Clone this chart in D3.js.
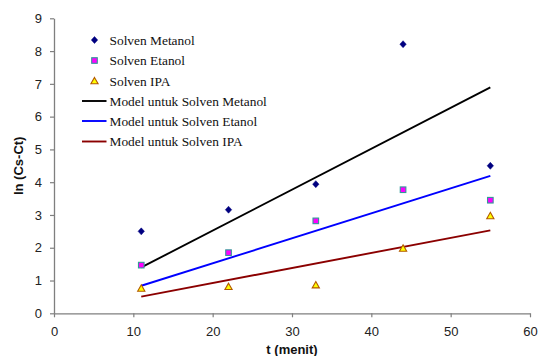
<!DOCTYPE html>
<html>
<head>
<meta charset="utf-8">
<script src="https://cdn.jsdelivr.net/npm/d3@7"></script>
<style>
  html, body { margin: 0; padding: 0; background: #fff; }
  svg { display: block; }
</style>
</head>
<body>
<svg id="chart" width="538" height="356"></svg>
<script>
// Sampling times (menit)
const times = [11, 22, 33, 44, 55];

// Observed ln(Cs-Ct) for each solvent
const metanol = [2.50, 3.16, 3.94, 8.21, 4.50];
const etanol  = [1.47, 1.85, 2.82, 3.77, 3.45];
const ipa     = [0.76, 0.81, 0.86, 1.98, 2.97];

// Linear model lines, evaluated at the first and last time
const modelTimes   = [11, 55];
const modelMetanol = [1.40, 6.89];
const modelEtanol  = [0.84, 4.19];
const modelIpa     = [0.51, 2.53];

// Axis ticks
const xTicks = [0, 10, 20, 30, 40, 50, 60];
const yTicks = [0, 1, 2, 3, 4, 5, 6, 7, 8, 9];

const legendLabels = [
  "Solven Metanol", "Solven Etanol", "Solven IPA",
  "Model untuk Solven Metanol", "Model untuk Solven Etanol", "Model untuk Solven IPA"
];

const svg = d3.select("#chart");
const plotLeft = 54, plotRight = 530, plotTop = 18.3, plotBottom = 313.3;

const x = d3.scaleLinear().domain([0, 60]).range([plotLeft, plotRight]);
const y = d3.scaleLinear().domain([0, 9]).range([plotBottom, plotTop]);

const axisColor = "#7f7f7f";
const tickFont = "'Liberation Sans', Arial, sans-serif";
const serif = "'Liberation Serif', 'Times New Roman', serif";

// X axis
const gx = svg.append("g")
  .attr("transform", `translate(0,${plotBottom})`)
  .call(d3.axisBottom(x).tickValues(xTicks).tickSize(4).tickPadding(9).tickSizeOuter(0));
gx.select(".domain").attr("stroke", axisColor).attr("stroke-width", 1.3);
gx.selectAll(".tick line").attr("stroke", axisColor).attr("stroke-width", 1.2);
gx.selectAll(".tick text").attr("font-family", tickFont).attr("font-size", 13).attr("fill", "#222");

// Y axis
const gy = svg.append("g")
  .attr("transform", `translate(${plotLeft},0)`)
  .call(d3.axisLeft(y).tickValues(yTicks).tickSize(4).tickPadding(8).tickSizeOuter(0));
gy.select(".domain").attr("stroke", axisColor).attr("stroke-width", 1.3);
gy.selectAll(".tick line").attr("stroke", axisColor).attr("stroke-width", 1.2);
gy.selectAll(".tick text").attr("font-family", tickFont).attr("font-size", 13).attr("fill", "#222");

// Axis titles
svg.append("text")
  .attr("x", (plotLeft + plotRight) / 2).attr("y", 354)
  .attr("text-anchor", "middle")
  .attr("font-family", tickFont).attr("font-size", 13).attr("font-weight", "bold")
  .attr("fill", "#111")
  .text("t (menit)");

svg.append("text")
  .attr("transform", `translate(23,${(plotTop + plotBottom) / 2}) rotate(-90)`)
  .attr("text-anchor", "middle")
  .attr("font-family", tickFont).attr("font-size", 13).attr("font-weight", "bold")
  .attr("fill", "#111")
  .text("ln (Cs-Ct)");

// Model lines
const line = d3.line().x(d => x(d[0])).y(d => y(d[1]));
const models = [
  { vals: modelMetanol, color: "#000000" },
  { vals: modelEtanol,  color: "#0000ff" },
  { vals: modelIpa,     color: "#8b0000" }
];
models.forEach(m => {
  svg.append("path")
    .datum(modelTimes.map((t, i) => [t, m.vals[i]]))
    .attr("d", line)
    .attr("fill", "none")
    .attr("stroke", m.color)
    .attr("stroke-width", 1.9);
});

// Markers
function diamond(g, cx, cy) {
  g.append("path")
    .attr("d", `M${cx},${cy - 3.5}L${cx + 3.2},${cy}L${cx},${cy + 3.5}L${cx - 3.2},${cy}Z`)
    .attr("fill", "#000080").attr("stroke", "#000080").attr("stroke-width", 0.5);
}
function square(g, cx, cy) {
  g.append("rect")
    .attr("x", cx - 2.8).attr("y", cy - 2.8).attr("width", 5.6).attr("height", 5.6)
    .attr("fill", "#ff00ff").attr("stroke", "#339999").attr("stroke-width", 1.1);
}
function triangle(g, cx, cy) {
  g.append("path")
    .attr("d", `M${cx},${cy - 3.6}L${cx + 3.6},${cy + 2.8}L${cx - 3.6},${cy + 2.8}Z`)
    .attr("fill", "#ffff00").attr("stroke", "#b35900").attr("stroke-width", 1.1);
}

const pts = svg.append("g");
times.forEach((t, i) => diamond(pts, x(t), y(metanol[i])));
times.forEach((t, i) => square(pts, x(t), y(etanol[i])));
times.forEach((t, i) => triangle(pts, x(t), y(ipa[i])));

// Legend
const lg = svg.append("g");
const rowY = [40, 60.5, 81, 101, 121, 141.5];
const markerFns = [diamond, square, triangle];
legendLabels.forEach((label, i) => {
  const ry = rowY[i];
  if (i < 3) {
    markerFns[i](lg, 94.5, ry);
  } else {
    lg.append("line")
      .attr("x1", 82).attr("x2", 106.5).attr("y1", ry).attr("y2", ry)
      .attr("stroke", models[i - 3].color).attr("stroke-width", 1.9);
  }
  lg.append("text")
    .attr("x", 109.5).attr("y", ry + 4.5)
    .attr("font-family", serif).attr("font-size", 13.4)
    .attr("fill", "#111")
    .text(label);
});
</script>
</body>
</html>
